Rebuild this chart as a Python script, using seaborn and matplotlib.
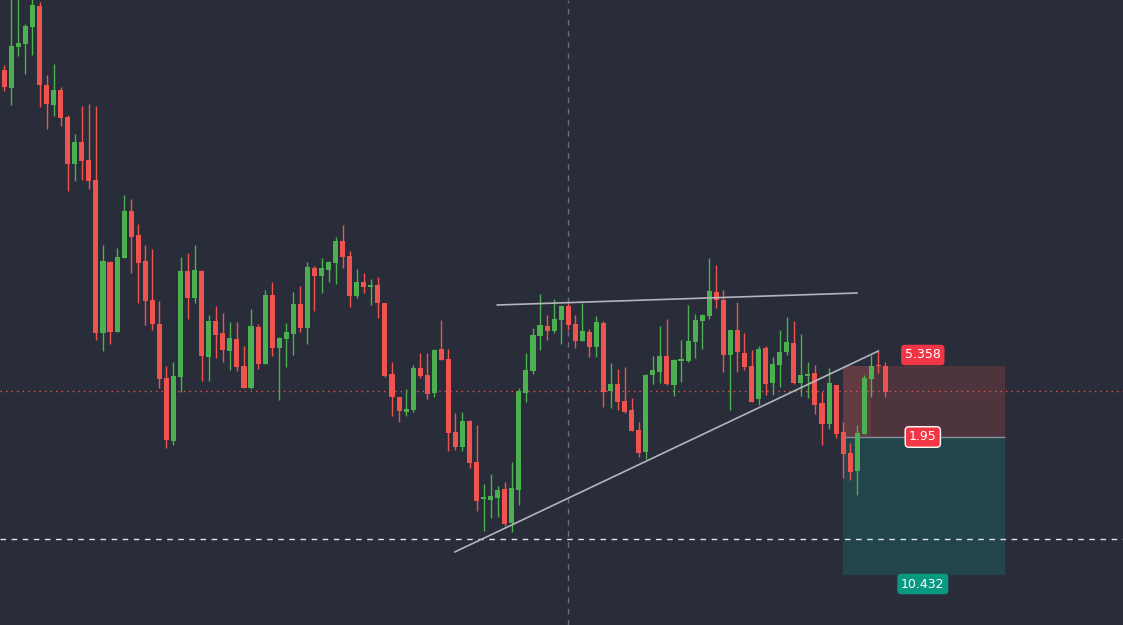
import numpy as np
import pandas as pd
import matplotlib
matplotlib.use("Agg")
import matplotlib.pyplot as plt
import seaborn as sns

# OHLC (price units)
opens = [570,552,593,596,613,634,555,535,550,523,476,498,480,460,307,378,308,382,429,405,
         379,340,316,262,199,263,369,342,369,283,319,307,289,301,274,252,313,276,345,292,
         301,306,336,312,372,364,370,377,399,384,344,358,353,355,337,266,243,228,230,272,
         265,247,291,281,208,193,219,178,141,140,142,151,117,150,247,269,304,314,309,320,
         334,316,299,308,293,317,249,256,239,230,210,188,265,268,284,255,279.5,279,298,319,
         324,348,340,285,310,287,274,241,292,257,275,288,297,257,264,267,237,216,255,208,
         187,169,206,261,275,274]
highs = [575,645,645,616,645,638,565,576,553,525,506,534,536,534,395,379,392,445,441,416,
         395,391,339,274,278,383,387,395,370,325,334,327,318,318,294,331,316,350,358,303,
         317,348,354,378,374,382,379,403,415,389,371,367,361,363,337,278,243,251,275,287,
         287,291,320,291,227,228,220,215,156,166,154,158,178,252,287,312,346,325,341,335,
         338,325,337,311,324,319,277,271,273,242,218,266,284,314,321,281,300,335,326,326,
         382,375,350,310,338,307,290,294,294,283,310,323,319,306,278,275,248,272,255,218,
         197,215,265,285,290,278]
lows = [549,535,584,566,585,533,511,524,514,449,459,460,451,300,289,296,308,382,367,337,
        315,310,252,192,195,248,321,337,259,259,282,278,270,269,252,251,271,276,284,240,
        273,285,308,296,329,347,358,356,372,333,342,347,335,322,263,224,218,224,228,262,
        241,243,280,189,190,189,172,129,109,122,123,114,108,135,238,266,290,300,307,296,
        310,292,299,283,283,233,232,230,227,209,183,181,256,257,255,244,258,278,282,291,
        321,332,268,230,268,270,238,235,245,245,253,285,256,244,242,226,195,211,202,162,
        160,145,206,243,267,243]
closes = [553,594,597,614,635,555,536,550,522,476,498,479,459,307,379,308,383,429,403,377,
          339,316,261,200,264,369,342,370,284,319,305,290,302,273,252,314,276,345,292,302,
          308,336,312,373,364,372,378,399,383,344,358,353,355,337,264,243,229,231,272,264,
          246,290,280,207,193,219,177,139,143,144,150,116,152,249,270,305,315,309,321,334,
          315,299,309,293,318,248,256,238,228,209,187,265,270,284,256,280,280.5,299,320,325,
          349,340,285,310,288,273,238,291,256,276,288,298,257,265,266,235,216,257,206,186,
          168,207,262,274,274,248]

last_price = 249
support_level = 101
crosshair_idx = 80
upper_trend_x = [69.9, 121]
upper_trend_y = [335, 347]
lower_trend_x = [63.9, 124]
lower_trend_y = [88, 289]
pos_start, pos_end = 119, 142
stop_level, entry_level, target_level = 274, 203, 65
label_stop, label_entry, label_target = "5.358", "1.95", "10.432"

BG = "#292d39"
UP = "#4caf50"
DN = "#ef5350"

sns.set_theme(style="dark", rc={"axes.facecolor": BG, "figure.facecolor": BG})
fig = plt.figure(figsize=(11.23, 6.25), dpi=100)
ax = fig.add_axes([0, 0, 1, 1])
ax.set_facecolor(BG)

df = pd.DataFrame(dict(o=opens, h=highs, l=lows, c=closes))
df["i"] = np.arange(len(df))
df["up"] = df.c >= df.o
cols = np.where(df.up, UP, DN)

# position boxes
ax.fill_between([pos_start, pos_end], entry_level, stop_level, color="#4d343d", zorder=0, lw=0)
ax.fill_between([pos_start, pos_start + 4], entry_level, stop_level, color="#623a41", zorder=0, lw=0)
ax.fill_between([pos_start, pos_end], target_level, entry_level, color="#22444b", zorder=0, lw=0)
ax.hlines(entry_level, pos_start, pos_end, color="#8a8e99", lw=1, zorder=1)

ax.vlines(df.i, df.l, df.h, colors=cols, lw=1, zorder=2)
bottoms = np.minimum(df.o, df.c)
heights = np.maximum(np.abs(df.c - df.o), 1.2)
ax.bar(df.i, heights, bottom=bottoms, width=0.72, color=cols, lw=0, zorder=3)

ax.axhline(last_price, color=DN, lw=1, ls=(0, (1, 3)), zorder=1)
ax.axhline(support_level, color="#e0e3eb", lw=1, ls=(0, (4, 4)), zorder=1)
ax.axvline(crosshair_idx, color="#6a6e7a", lw=1, ls=(0, (4, 4)), zorder=1)

sns.lineplot(x=upper_trend_x, y=upper_trend_y, ax=ax, color="#b2b5be", lw=1.2, zorder=4)
sns.lineplot(x=lower_trend_x, y=lower_trend_y, ax=ax, color="#b2b5be", lw=1.2, zorder=4)

lx = 130.3
ax.text(lx, 285, label_stop, color="white", fontsize=9, ha="center", va="center",
        bbox=dict(boxstyle="round,pad=0.3", fc="#f23645", ec="none"), zorder=5)
ax.text(lx, entry_level, label_entry, color="white", fontsize=9, ha="center", va="center",
        bbox=dict(boxstyle="round,pad=0.3", fc="#f23645", ec="white", lw=1), zorder=5)
ax.text(lx, 56, label_target, color="white", fontsize=9, ha="center", va="center",
        bbox=dict(boxstyle="round,pad=0.3", fc="#089981", ec="none"), zorder=5)

ax.set_xlim(-0.61, 158.7)
ax.set_ylim(15, 640)
ax.set_xticks([]); ax.set_yticks([])
for s in ax.spines.values():
    s.set_visible(False)
ax.grid(False)
fig.savefig("out.png", dpi=100, facecolor=BG)
